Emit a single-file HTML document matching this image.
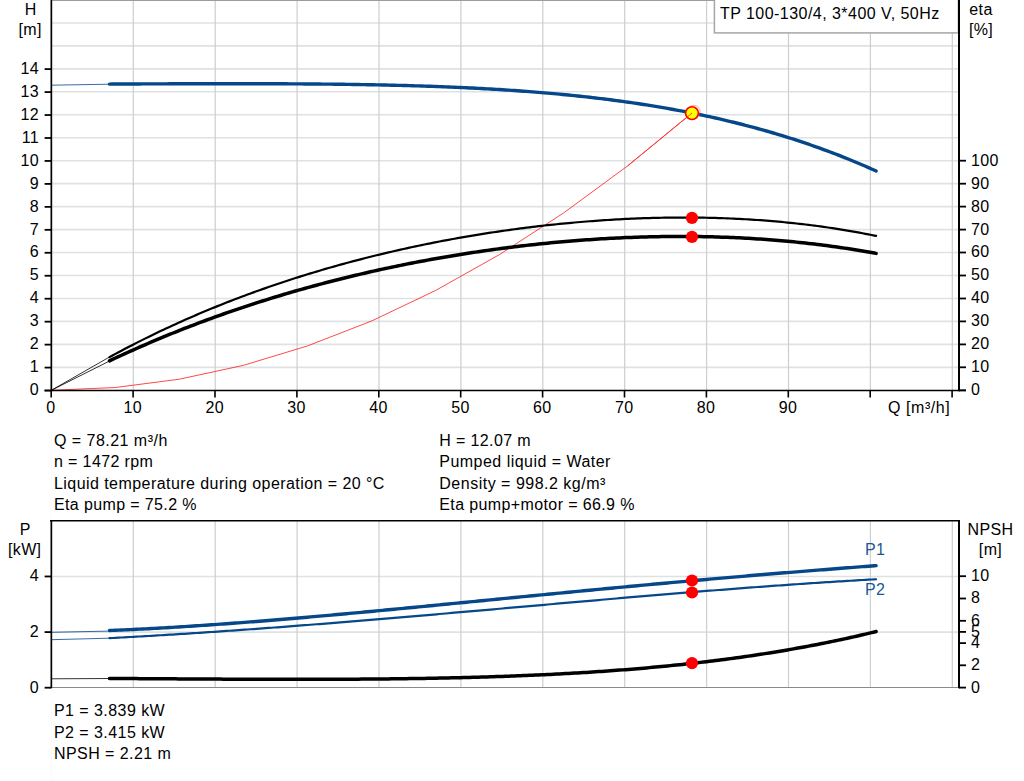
<!DOCTYPE html>
<html><head><meta charset="utf-8"><style>
html,body{margin:0;padding:0;background:#fff;}
body{width:1024px;height:781px;overflow:hidden;position:relative;}
svg{position:absolute;left:0;top:0;}
text{font-family:"Liberation Sans",sans-serif;font-size:16px;fill:#000;letter-spacing:0.37px;}
</style></head><body>
<svg width="1024" height="781" viewBox="0 0 1024 781">

<line x1="51.5" y1="430" x2="51.5" y2="519" stroke="#fafafa" stroke-width="1"/>
<line x1="51.5" y1="700" x2="51.5" y2="781" stroke="#fafafa" stroke-width="1"/>
<g stroke="#dfe1e3" stroke-width="1.6"><line x1="51" y1="367.34" x2="958" y2="367.34" /><line x1="51" y1="344.38" x2="958" y2="344.38" /><line x1="51" y1="321.42" x2="958" y2="321.42" /><line x1="51" y1="298.46" x2="958" y2="298.46" /><line x1="51" y1="275.50" x2="958" y2="275.50" /><line x1="51" y1="252.54" x2="958" y2="252.54" /><line x1="51" y1="229.58" x2="958" y2="229.58" /><line x1="51" y1="206.62" x2="958" y2="206.62" /><line x1="51" y1="183.66" x2="958" y2="183.66" /><line x1="51" y1="160.70" x2="958" y2="160.70" /><line x1="51" y1="137.74" x2="958" y2="137.74" /><line x1="51" y1="114.78" x2="958" y2="114.78" /><line x1="51" y1="91.82" x2="958" y2="91.82" /><line x1="51" y1="68.86" x2="958" y2="68.86" /><line x1="51" y1="45.90" x2="958" y2="45.90" /><line x1="51" y1="22.94" x2="958" y2="22.94" /></g>
<g stroke="#ccd0d3" stroke-width="1.25"><line x1="133.30" y1="0" x2="133.30" y2="390" /><line x1="215.20" y1="0" x2="215.20" y2="390" /><line x1="297.10" y1="0" x2="297.10" y2="390" /><line x1="379.00" y1="0" x2="379.00" y2="390" /><line x1="460.90" y1="0" x2="460.90" y2="390" /><line x1="542.80" y1="0" x2="542.80" y2="390" /><line x1="624.70" y1="0" x2="624.70" y2="390" /><line x1="706.60" y1="0" x2="706.60" y2="390" /><line x1="788.50" y1="0" x2="788.50" y2="390" /><line x1="870.40" y1="0" x2="870.40" y2="390" /><line x1="952.30" y1="0" x2="952.30" y2="390" /></g>
<line x1="51" y1="0.5" x2="959" y2="0.5" stroke="#9c9c9c" stroke-width="1"/>
<rect x="714.4" y="-1" width="244" height="33.9" fill="#fff" stroke="#a6a6a6" stroke-width="1.5"/>
<text x="720" y="18.8" style="letter-spacing:0.46px">TP 100-130/4, 3*400 V, 50Hz</text>
<polyline fill="none" stroke="#ff1a1a" stroke-width="0.8" points="51.2,390.30 115.3,387.53 179.3,379.21 243.4,365.36 307.4,345.96 371.5,321.02 435.5,290.53 499.6,254.51 563.6,212.94 627.7,165.83 691.7,113.17"/>
<line x1="51.4" y1="85.2" x2="109.5" y2="84.2" stroke="#054789" stroke-width="1" stroke-opacity="0.8"/><path d="M109.5,84.09 L112.5,84.07 L115.5,84.06 L118.5,84.04 L121.5,84.02 L124.5,84.01 L127.5,83.99 L130.5,83.98 L133.5,83.96 L136.5,83.95 L139.5,83.94 L142.5,83.92 L145.5,83.91 L148.5,83.90 L151.5,83.88 L154.5,83.87 L157.5,83.86 L160.5,83.85 L163.5,83.84 L166.5,83.83 L169.5,83.82 L172.5,83.81 L175.5,83.80 L178.5,83.79 L181.5,83.78 L184.5,83.77 L187.5,83.76 L190.5,83.75 L193.5,83.75 L196.5,83.74 L199.5,83.73 L202.5,83.73 L205.5,83.72 L208.5,83.72 L211.5,83.71 L214.5,83.71 L217.5,83.71 L220.5,83.70 L223.5,83.70 L226.5,83.70 L229.5,83.70 L232.5,83.70 L235.5,83.70 L238.5,83.70 L241.5,83.70 L244.5,83.70 L247.5,83.71 L250.5,83.71 L253.5,83.71 L256.5,83.72 L259.5,83.73 L262.5,83.73 L265.5,83.74 L268.5,83.75 L271.5,83.76 L274.5,83.77 L277.5,83.78 L280.5,83.79 L283.5,83.81 L286.5,83.82 L289.5,83.84 L292.5,83.85 L295.5,83.87 L298.5,83.89 L301.5,83.91 L304.5,83.93 L307.5,83.95 L310.5,83.97 L313.5,84.00 L316.5,84.02 L319.5,84.05 L322.5,84.08 L325.5,84.11 L328.5,84.14 L331.5,84.17 L334.5,84.21 L337.5,84.24 L340.5,84.28 L343.5,84.32 L346.5,84.36 L349.5,84.40 L352.5,84.45 L355.5,84.49 L358.5,84.54 L361.5,84.59 L364.5,84.64 L367.5,84.69 L370.5,84.75 L373.5,84.80 L376.5,84.86 L379.5,84.92 L382.5,84.99 L385.5,85.05 L388.5,85.12 L391.5,85.19 L394.5,85.26 L397.5,85.33 L400.5,85.41 L403.5,85.49 L406.5,85.57 L409.5,85.65 L412.5,85.74 L415.5,85.83 L418.5,85.92 L421.5,86.01 L424.5,86.11 L427.5,86.21 L430.5,86.31 L433.5,86.42 L436.5,86.53 L439.5,86.64 L442.5,86.75 L445.5,86.87 L448.5,86.99 L451.5,87.11 L454.5,87.24 L457.5,87.37 L460.5,87.50 L463.5,87.64 L466.5,87.78 L469.5,87.93 L472.5,88.07 L475.5,88.22 L478.5,88.38 L481.5,88.54 L484.5,88.70 L487.5,88.87 L490.5,89.04 L493.5,89.21 L496.5,89.39 L499.5,89.57 L502.5,89.76 L505.5,89.95 L508.5,90.14 L511.5,90.34 L514.5,90.55 L517.5,90.75 L520.5,90.97 L523.5,91.18 L526.5,91.41 L529.5,91.63 L532.5,91.86 L535.5,92.10 L538.5,92.34 L541.5,92.59 L544.5,92.84 L547.5,93.10 L550.5,93.36 L553.5,93.63 L556.5,93.90 L559.5,94.18 L562.5,94.46 L565.5,94.75 L568.5,95.04 L571.5,95.34 L574.5,95.65 L577.5,95.96 L580.5,96.28 L583.5,96.60 L586.5,96.93 L589.5,97.27 L592.5,97.61 L595.5,97.96 L598.5,98.32 L601.5,98.68 L604.5,99.05 L607.5,99.42 L610.5,99.80 L613.5,100.19 L616.5,100.58 L619.5,100.99 L622.5,101.40 L625.5,101.81 L628.5,102.24 L631.5,102.67 L634.5,103.10 L637.5,103.55 L640.5,104.00 L643.5,104.46 L646.5,104.93 L649.5,105.41 L652.5,105.89 L655.5,106.38 L658.5,106.88 L661.5,107.39 L664.5,107.91 L667.5,108.43 L670.5,108.97 L673.5,109.51 L676.5,110.06 L679.5,110.62 L682.5,111.18 L685.5,111.76 L688.5,112.34 L691.5,112.94 L694.5,113.54 L697.5,114.15 L700.5,114.78 L703.5,115.41 L706.5,116.05 L709.5,116.70 L712.5,117.36 L715.5,118.03 L718.5,118.71 L721.5,119.40 L724.5,120.10 L727.5,120.81 L730.5,121.53 L733.5,122.26 L736.5,123.00 L739.5,123.75 L742.5,124.52 L745.5,125.29 L748.5,126.07 L751.5,126.87 L754.5,127.67 L757.5,128.49 L760.5,129.32 L763.5,130.16 L766.5,131.01 L769.5,131.88 L772.5,132.75 L775.5,133.64 L778.5,134.54 L781.5,135.45 L784.5,136.37 L787.5,137.31 L790.5,138.25 L793.5,139.21 L796.5,140.19 L799.5,141.17 L802.5,142.17 L805.5,143.18 L808.5,144.21 L811.5,145.24 L814.5,146.29 L817.5,147.36 L820.5,148.44 L823.5,149.53 L826.5,150.63 L829.5,151.75 L832.5,152.88 L835.5,154.03 L838.5,155.19 L841.5,156.36 L844.5,157.55 L847.5,158.76 L850.5,159.98 L853.5,161.21 L856.5,162.46 L859.5,163.72 L862.5,165.00 L865.5,166.29 L868.5,167.60 L871.5,168.93 L874.5,170.27 L876.1,170.99" fill="none" stroke="#054789" stroke-width="3.4" stroke-linecap="round" stroke-linejoin="round"/>
<line x1="51.3" y1="390.3" x2="109.5" y2="357.0" stroke="#000" stroke-width="1" stroke-opacity="0.8"/><path d="M109.5,357.13 L112.5,355.49 L115.5,353.87 L118.5,352.26 L121.5,350.67 L124.5,349.09 L127.5,347.52 L130.5,345.97 L133.5,344.42 L136.5,342.89 L139.5,341.38 L142.5,339.87 L145.5,338.38 L148.5,336.90 L151.5,335.44 L154.5,333.98 L157.5,332.54 L160.5,331.11 L163.5,329.69 L166.5,328.29 L169.5,326.89 L172.5,325.51 L175.5,324.14 L178.5,322.78 L181.5,321.44 L184.5,320.10 L187.5,318.78 L190.5,317.46 L193.5,316.16 L196.5,314.87 L199.5,313.59 L202.5,312.32 L205.5,311.07 L208.5,309.82 L211.5,308.58 L214.5,307.36 L217.5,306.14 L220.5,304.94 L223.5,303.75 L226.5,302.56 L229.5,301.39 L232.5,300.23 L235.5,299.08 L238.5,297.93 L241.5,296.80 L244.5,295.68 L247.5,294.57 L250.5,293.46 L253.5,292.37 L256.5,291.29 L259.5,290.22 L262.5,289.15 L265.5,288.10 L268.5,287.05 L271.5,286.02 L274.5,284.99 L277.5,283.98 L280.5,282.97 L283.5,281.97 L286.5,280.98 L289.5,280.00 L292.5,279.03 L295.5,278.07 L298.5,277.12 L301.5,276.17 L304.5,275.24 L307.5,274.31 L310.5,273.39 L313.5,272.48 L316.5,271.58 L319.5,270.69 L322.5,269.81 L325.5,268.93 L328.5,268.06 L331.5,267.21 L334.5,266.36 L337.5,265.51 L340.5,264.68 L343.5,263.85 L346.5,263.04 L349.5,262.23 L352.5,261.43 L355.5,260.63 L358.5,259.85 L361.5,259.07 L364.5,258.30 L367.5,257.54 L370.5,256.79 L373.5,256.04 L376.5,255.30 L379.5,254.57 L382.5,253.85 L385.5,253.13 L388.5,252.42 L391.5,251.72 L394.5,251.03 L397.5,250.35 L400.5,249.67 L403.5,249.00 L406.5,248.34 L409.5,247.68 L412.5,247.03 L415.5,246.39 L418.5,245.76 L421.5,245.13 L424.5,244.51 L427.5,243.90 L430.5,243.30 L433.5,242.70 L436.5,242.11 L439.5,241.53 L442.5,240.95 L445.5,240.38 L448.5,239.82 L451.5,239.27 L454.5,238.72 L457.5,238.18 L460.5,237.65 L463.5,237.12 L466.5,236.60 L469.5,236.09 L472.5,235.59 L475.5,235.09 L478.5,234.60 L481.5,234.11 L484.5,233.63 L487.5,233.16 L490.5,232.70 L493.5,232.24 L496.5,231.79 L499.5,231.35 L502.5,230.91 L505.5,230.48 L508.5,230.06 L511.5,229.65 L514.5,229.24 L517.5,228.84 L520.5,228.44 L523.5,228.05 L526.5,227.67 L529.5,227.30 L532.5,226.93 L535.5,226.57 L538.5,226.21 L541.5,225.87 L544.5,225.53 L547.5,225.19 L550.5,224.87 L553.5,224.55 L556.5,224.24 L559.5,223.93 L562.5,223.63 L565.5,223.34 L568.5,223.05 L571.5,222.78 L574.5,222.50 L577.5,222.24 L580.5,221.98 L583.5,221.73 L586.5,221.49 L589.5,221.25 L592.5,221.03 L595.5,220.80 L598.5,220.59 L601.5,220.38 L604.5,220.18 L607.5,219.99 L610.5,219.80 L613.5,219.62 L616.5,219.45 L619.5,219.28 L622.5,219.12 L625.5,218.97 L628.5,218.83 L631.5,218.69 L634.5,218.57 L637.5,218.45 L640.5,218.33 L643.5,218.22 L646.5,218.13 L649.5,218.03 L652.5,217.95 L655.5,217.87 L658.5,217.80 L661.5,217.74 L664.5,217.69 L667.5,217.64 L670.5,217.60 L673.5,217.57 L676.5,217.55 L679.5,217.54 L682.5,217.53 L685.5,217.53 L688.5,217.54 L691.5,217.55 L694.5,217.58 L697.5,217.61 L700.5,217.65 L703.5,217.70 L706.5,217.76 L709.5,217.82 L712.5,217.89 L715.5,217.97 L718.5,218.06 L721.5,218.16 L724.5,218.27 L727.5,218.38 L730.5,218.51 L733.5,218.64 L736.5,218.78 L739.5,218.93 L742.5,219.09 L745.5,219.25 L748.5,219.43 L751.5,219.61 L754.5,219.81 L757.5,220.01 L760.5,220.22 L763.5,220.44 L766.5,220.67 L769.5,220.91 L772.5,221.16 L775.5,221.42 L778.5,221.68 L781.5,221.96 L784.5,222.24 L787.5,222.54 L790.5,222.84 L793.5,223.16 L796.5,223.48 L799.5,223.82 L802.5,224.16 L805.5,224.52 L808.5,224.88 L811.5,225.25 L814.5,225.64 L817.5,226.03 L820.5,226.44 L823.5,226.85 L826.5,227.28 L829.5,227.72 L832.5,228.16 L835.5,228.62 L838.5,229.09 L841.5,229.57 L844.5,230.06 L847.5,230.56 L850.5,231.07 L853.5,231.59 L856.5,232.13 L859.5,232.67 L862.5,233.23 L865.5,233.80 L868.5,234.38 L871.5,234.97 L874.5,235.57 L876.1,235.90" fill="none" stroke="#000" stroke-width="2.2" stroke-linecap="round" stroke-linejoin="round"/>
<line x1="51.3" y1="390.3" x2="109.5" y2="361.0" stroke="#000" stroke-width="1" stroke-opacity="0.8"/><path d="M109.5,360.86 L112.5,359.44 L115.5,358.03 L118.5,356.64 L121.5,355.25 L124.5,353.88 L127.5,352.51 L130.5,351.15 L133.5,349.81 L136.5,348.48 L139.5,347.15 L142.5,345.84 L145.5,344.53 L148.5,343.24 L151.5,341.96 L154.5,340.68 L157.5,339.42 L160.5,338.17 L163.5,336.92 L166.5,335.69 L169.5,334.46 L172.5,333.25 L175.5,332.04 L178.5,330.85 L181.5,329.66 L184.5,328.48 L187.5,327.31 L190.5,326.16 L193.5,325.01 L196.5,323.87 L199.5,322.73 L202.5,321.61 L205.5,320.50 L208.5,319.39 L211.5,318.30 L214.5,317.21 L217.5,316.13 L220.5,315.07 L223.5,314.00 L226.5,312.95 L229.5,311.91 L232.5,310.88 L235.5,309.85 L238.5,308.83 L241.5,307.82 L244.5,306.82 L247.5,305.83 L250.5,304.85 L253.5,303.87 L256.5,302.90 L259.5,301.94 L262.5,300.99 L265.5,300.05 L268.5,299.11 L271.5,298.18 L274.5,297.26 L277.5,296.35 L280.5,295.45 L283.5,294.55 L286.5,293.67 L289.5,292.79 L292.5,291.91 L295.5,291.05 L298.5,290.19 L301.5,289.34 L304.5,288.50 L307.5,287.66 L310.5,286.84 L313.5,286.02 L316.5,285.20 L319.5,284.40 L322.5,283.60 L325.5,282.81 L328.5,282.03 L331.5,281.25 L334.5,280.49 L337.5,279.72 L340.5,278.97 L343.5,278.22 L346.5,277.48 L349.5,276.75 L352.5,276.03 L355.5,275.31 L358.5,274.60 L361.5,273.89 L364.5,273.19 L367.5,272.50 L370.5,271.82 L373.5,271.14 L376.5,270.47 L379.5,269.81 L382.5,269.16 L385.5,268.51 L388.5,267.86 L391.5,267.23 L394.5,266.60 L397.5,265.98 L400.5,265.36 L403.5,264.75 L406.5,264.15 L409.5,263.55 L412.5,262.97 L415.5,262.38 L418.5,261.81 L421.5,261.24 L424.5,260.68 L427.5,260.12 L430.5,259.57 L433.5,259.03 L436.5,258.49 L439.5,257.96 L442.5,257.44 L445.5,256.92 L448.5,256.41 L451.5,255.91 L454.5,255.41 L457.5,254.92 L460.5,254.43 L463.5,253.95 L466.5,253.48 L469.5,253.02 L472.5,252.56 L475.5,252.11 L478.5,251.66 L481.5,251.22 L484.5,250.79 L487.5,250.36 L490.5,249.94 L493.5,249.52 L496.5,249.12 L499.5,248.71 L502.5,248.32 L505.5,247.93 L508.5,247.55 L511.5,247.17 L514.5,246.80 L517.5,246.44 L520.5,246.08 L523.5,245.73 L526.5,245.38 L529.5,245.05 L532.5,244.71 L535.5,244.39 L538.5,244.07 L541.5,243.76 L544.5,243.45 L547.5,243.15 L550.5,242.86 L553.5,242.57 L556.5,242.29 L559.5,242.01 L562.5,241.75 L565.5,241.48 L568.5,241.23 L571.5,240.98 L574.5,240.74 L577.5,240.50 L580.5,240.27 L583.5,240.05 L586.5,239.84 L589.5,239.63 L592.5,239.42 L595.5,239.23 L598.5,239.04 L601.5,238.85 L604.5,238.68 L607.5,238.50 L610.5,238.34 L613.5,238.18 L616.5,238.03 L619.5,237.89 L622.5,237.75 L625.5,237.62 L628.5,237.50 L631.5,237.38 L634.5,237.27 L637.5,237.17 L640.5,237.07 L643.5,236.98 L646.5,236.90 L649.5,236.82 L652.5,236.75 L655.5,236.69 L658.5,236.64 L661.5,236.59 L664.5,236.55 L667.5,236.51 L670.5,236.49 L673.5,236.47 L676.5,236.45 L679.5,236.45 L682.5,236.45 L685.5,236.46 L688.5,236.47 L691.5,236.50 L694.5,236.53 L697.5,236.56 L700.5,236.61 L703.5,236.66 L706.5,236.72 L709.5,236.79 L712.5,236.86 L715.5,236.94 L718.5,237.03 L721.5,237.13 L724.5,237.23 L727.5,237.35 L730.5,237.47 L733.5,237.59 L736.5,237.73 L739.5,237.87 L742.5,238.02 L745.5,238.18 L748.5,238.35 L751.5,238.52 L754.5,238.71 L757.5,238.90 L760.5,239.10 L763.5,239.30 L766.5,239.52 L769.5,239.74 L772.5,239.97 L775.5,240.21 L778.5,240.46 L781.5,240.72 L784.5,240.98 L787.5,241.26 L790.5,241.54 L793.5,241.83 L796.5,242.13 L799.5,242.43 L802.5,242.75 L805.5,243.08 L808.5,243.41 L811.5,243.75 L814.5,244.10 L817.5,244.47 L820.5,244.83 L823.5,245.21 L826.5,245.60 L829.5,246.00 L832.5,246.40 L835.5,246.82 L838.5,247.24 L841.5,247.68 L844.5,248.12 L847.5,248.57 L850.5,249.04 L853.5,249.51 L856.5,249.99 L859.5,250.48 L862.5,250.98 L865.5,251.49 L868.5,252.02 L871.5,252.55 L874.5,253.09 L876.1,253.38" fill="none" stroke="#000" stroke-width="3.5" stroke-linecap="round" stroke-linejoin="round"/>
<circle cx="693.8" cy="111.7" r="6.4" fill="none" stroke="#ff6060" stroke-width="0.8" opacity="0.7"/>
<circle cx="692" cy="113.1" r="6.4" fill="#ffff00" stroke="#ff0000" stroke-width="1.6"/>
<line x1="627.7" y1="165.83" x2="692" y2="113.1" stroke="#ff3030" stroke-width="0.9"/>
<circle cx="692" cy="217.9" r="6.1" fill="#ff0000"/>
<circle cx="692" cy="236.9" r="6.1" fill="#ff0000"/>
<g stroke="#000" stroke-width="2">
<line x1="51.35" y1="0" x2="51.35" y2="391.3" stroke-width="1.7"/>
<line x1="959" y1="0" x2="959" y2="391.3"/>
<line x1="44.5" y1="390.5" x2="966" y2="390.5" stroke-width="1.5"/>
<line x1="44.6" y1="390.55" x2="51" y2="390.55" stroke-width="1.8"/>
<line x1="44.6" y1="367.59" x2="51" y2="367.59" stroke-width="1.8"/>
<line x1="44.6" y1="344.63" x2="51" y2="344.63" stroke-width="1.8"/>
<line x1="44.6" y1="321.67" x2="51" y2="321.67" stroke-width="1.8"/>
<line x1="44.6" y1="298.71" x2="51" y2="298.71" stroke-width="1.8"/>
<line x1="44.6" y1="275.75" x2="51" y2="275.75" stroke-width="1.8"/>
<line x1="44.6" y1="252.79" x2="51" y2="252.79" stroke-width="1.8"/>
<line x1="44.6" y1="229.83" x2="51" y2="229.83" stroke-width="1.8"/>
<line x1="44.6" y1="206.87" x2="51" y2="206.87" stroke-width="1.8"/>
<line x1="44.6" y1="183.91" x2="51" y2="183.91" stroke-width="1.8"/>
<line x1="44.6" y1="160.95" x2="51" y2="160.95" stroke-width="1.8"/>
<line x1="44.6" y1="137.99" x2="51" y2="137.99" stroke-width="1.8"/>
<line x1="44.6" y1="115.03" x2="51" y2="115.03" stroke-width="1.8"/>
<line x1="44.6" y1="92.07" x2="51" y2="92.07" stroke-width="1.8"/>
<line x1="44.6" y1="69.11" x2="51" y2="69.11" stroke-width="1.8"/>
<line x1="959" y1="390.3" x2="966" y2="390.3" stroke-width="1.8"/>
<line x1="959" y1="367.3" x2="966" y2="367.3" stroke-width="1.8"/>
<line x1="959" y1="344.4" x2="966" y2="344.4" stroke-width="1.8"/>
<line x1="959" y1="321.4" x2="966" y2="321.4" stroke-width="1.8"/>
<line x1="959" y1="298.5" x2="966" y2="298.5" stroke-width="1.8"/>
<line x1="959" y1="275.5" x2="966" y2="275.5" stroke-width="1.8"/>
<line x1="959" y1="252.5" x2="966" y2="252.5" stroke-width="1.8"/>
<line x1="959" y1="229.6" x2="966" y2="229.6" stroke-width="1.8"/>
<line x1="959" y1="206.6" x2="966" y2="206.6" stroke-width="1.8"/>
<line x1="959" y1="183.7" x2="966" y2="183.7" stroke-width="1.8"/>
<line x1="959" y1="160.7" x2="966" y2="160.7" stroke-width="1.8"/>
<line x1="51.2" y1="390" x2="51.2" y2="397.5" stroke-width="1.6"/>
<line x1="133.1" y1="390" x2="133.1" y2="397.5" stroke-width="1.6"/>
<line x1="215.0" y1="390" x2="215.0" y2="397.5" stroke-width="1.6"/>
<line x1="296.9" y1="390" x2="296.9" y2="397.5" stroke-width="1.6"/>
<line x1="378.8" y1="390" x2="378.8" y2="397.5" stroke-width="1.6"/>
<line x1="460.7" y1="390" x2="460.7" y2="397.5" stroke-width="1.6"/>
<line x1="542.6" y1="390" x2="542.6" y2="397.5" stroke-width="1.6"/>
<line x1="624.5" y1="390" x2="624.5" y2="397.5" stroke-width="1.6"/>
<line x1="706.4" y1="390" x2="706.4" y2="397.5" stroke-width="1.6"/>
<line x1="788.3" y1="390" x2="788.3" y2="397.5" stroke-width="1.6"/>
<line x1="870.2" y1="390" x2="870.2" y2="397.5" stroke-width="1.6"/>
<line x1="952.1" y1="390" x2="952.1" y2="397.5" stroke-width="1.6"/>
</g>
<text x="39" y="395.2" text-anchor="end">0</text><text x="39" y="372.2" text-anchor="end">1</text><text x="39" y="349.3" text-anchor="end">2</text><text x="39" y="326.3" text-anchor="end">3</text><text x="39" y="303.4" text-anchor="end">4</text><text x="39" y="280.4" text-anchor="end">5</text><text x="39" y="257.4" text-anchor="end">6</text><text x="39" y="234.5" text-anchor="end">7</text><text x="39" y="211.5" text-anchor="end">8</text><text x="39" y="188.6" text-anchor="end">9</text><text x="39" y="165.6" text-anchor="end">10</text><text x="39" y="142.6" text-anchor="end">11</text><text x="39" y="119.7" text-anchor="end">12</text><text x="39" y="96.7" text-anchor="end">13</text><text x="39" y="73.8" text-anchor="end">14</text><text x="971" y="395.2">0</text><text x="971" y="372.2">10</text><text x="971" y="349.3">20</text><text x="971" y="326.3">30</text><text x="971" y="303.4">40</text><text x="971" y="280.4">50</text><text x="971" y="257.4">60</text><text x="971" y="234.5">70</text><text x="971" y="211.5">80</text><text x="971" y="188.6">90</text><text x="971" y="165.6">100</text><text x="50.9" y="412.5" text-anchor="middle">0</text><text x="132.8" y="412.5" text-anchor="middle">10</text><text x="214.7" y="412.5" text-anchor="middle">20</text><text x="296.6" y="412.5" text-anchor="middle">30</text><text x="378.5" y="412.5" text-anchor="middle">40</text><text x="460.4" y="412.5" text-anchor="middle">50</text><text x="542.3" y="412.5" text-anchor="middle">60</text><text x="624.2" y="412.5" text-anchor="middle">70</text><text x="706.1" y="412.5" text-anchor="middle">80</text><text x="788.0" y="412.5" text-anchor="middle">90</text><text x="888" y="412.6" style="letter-spacing:0.57px">Q [m³/h]</text><text x="30.7" y="14.8" text-anchor="middle">H</text><text x="30.2" y="34.5" text-anchor="middle">[m]</text><text x="981" y="14.6" text-anchor="middle">eta</text><text x="981" y="34.5" text-anchor="middle">[%]</text>
<text x="54" y="446.4" style="letter-spacing:0.47px">Q = 78.21 m³/h</text>
<text x="439.3" y="446.4" style="letter-spacing:0.37px">H = 12.07 m</text>
<text x="54" y="466.6" style="letter-spacing:0.37px">n = 1472 rpm</text>
<text x="439.3" y="466.6" style="letter-spacing:0.47px">Pumped liquid = Water</text>
<text x="54" y="488.6" style="letter-spacing:0.44px">Liquid temperature during operation = 20 °C</text>
<text x="439.3" y="488.6" style="letter-spacing:0.5px">Density = 998.2 kg/m³</text>
<text x="54" y="509.8" style="letter-spacing:0.37px">Eta pump = 75.2 %</text>
<text x="439.3" y="509.8" style="letter-spacing:0.38px">Eta pump+motor = 66.9 %</text>
<g stroke="#dfe1e3" stroke-width="1.6"><line x1="51" y1="632.08" x2="958" y2="632.08" /><line x1="51" y1="576.46" x2="958" y2="576.46" /></g>
<g stroke="#ccd0d3" stroke-width="1.25"><line x1="133.30" y1="521" x2="133.30" y2="687" /><line x1="215.20" y1="521" x2="215.20" y2="687" /><line x1="297.10" y1="521" x2="297.10" y2="687" /><line x1="379.00" y1="521" x2="379.00" y2="687" /><line x1="460.90" y1="521" x2="460.90" y2="687" /><line x1="542.80" y1="521" x2="542.80" y2="687" /><line x1="624.70" y1="521" x2="624.70" y2="687" /><line x1="706.60" y1="521" x2="706.60" y2="687" /><line x1="788.50" y1="521" x2="788.50" y2="687" /><line x1="870.40" y1="521" x2="870.40" y2="687" /><line x1="952.30" y1="521" x2="952.30" y2="687" /></g>
<line x1="51" y1="687.5" x2="959" y2="687.5" stroke="#8a8a8a" stroke-width="1.2"/>
<line x1="51.4" y1="632.3" x2="109.5" y2="631.1" stroke="#054789" stroke-width="1" stroke-opacity="0.8"/><path d="M109.5,630.52 L112.5,630.40 L115.5,630.28 L118.5,630.15 L121.5,630.02 L124.5,629.88 L127.5,629.74 L130.5,629.60 L133.5,629.46 L136.5,629.31 L139.5,629.16 L142.5,629.01 L145.5,628.86 L148.5,628.70 L151.5,628.54 L154.5,628.37 L157.5,628.21 L160.5,628.04 L163.5,627.87 L166.5,627.69 L169.5,627.52 L172.5,627.34 L175.5,627.16 L178.5,626.97 L181.5,626.79 L184.5,626.60 L187.5,626.41 L190.5,626.22 L193.5,626.02 L196.5,625.82 L199.5,625.62 L202.5,625.42 L205.5,625.22 L208.5,625.01 L211.5,624.80 L214.5,624.59 L217.5,624.38 L220.5,624.16 L223.5,623.95 L226.5,623.73 L229.5,623.51 L232.5,623.29 L235.5,623.06 L238.5,622.84 L241.5,622.61 L244.5,622.38 L247.5,622.15 L250.5,621.91 L253.5,621.68 L256.5,621.44 L259.5,621.20 L262.5,620.96 L265.5,620.72 L268.5,620.48 L271.5,620.24 L274.5,619.99 L277.5,619.74 L280.5,619.49 L283.5,619.24 L286.5,618.99 L289.5,618.74 L292.5,618.48 L295.5,618.23 L298.5,617.97 L301.5,617.71 L304.5,617.45 L307.5,617.19 L310.5,616.93 L313.5,616.67 L316.5,616.40 L319.5,616.14 L322.5,615.87 L325.5,615.60 L328.5,615.33 L331.5,615.07 L334.5,614.79 L337.5,614.52 L340.5,614.25 L343.5,613.98 L346.5,613.70 L349.5,613.43 L352.5,613.15 L355.5,612.87 L358.5,612.60 L361.5,612.32 L364.5,612.04 L367.5,611.76 L370.5,611.48 L373.5,611.19 L376.5,610.91 L379.5,610.63 L382.5,610.34 L385.5,610.06 L388.5,609.78 L391.5,609.49 L394.5,609.20 L397.5,608.92 L400.5,608.63 L403.5,608.34 L406.5,608.05 L409.5,607.77 L412.5,607.48 L415.5,607.19 L418.5,606.90 L421.5,606.61 L424.5,606.32 L427.5,606.02 L430.5,605.73 L433.5,605.44 L436.5,605.15 L439.5,604.86 L442.5,604.56 L445.5,604.27 L448.5,603.98 L451.5,603.68 L454.5,603.39 L457.5,603.10 L460.5,602.80 L463.5,602.51 L466.5,602.22 L469.5,601.92 L472.5,601.63 L475.5,601.33 L478.5,601.04 L481.5,600.74 L484.5,600.45 L487.5,600.16 L490.5,599.86 L493.5,599.57 L496.5,599.27 L499.5,598.98 L502.5,598.68 L505.5,598.39 L508.5,598.09 L511.5,597.80 L514.5,597.51 L517.5,597.21 L520.5,596.92 L523.5,596.62 L526.5,596.33 L529.5,596.04 L532.5,595.74 L535.5,595.45 L538.5,595.16 L541.5,594.87 L544.5,594.57 L547.5,594.28 L550.5,593.99 L553.5,593.70 L556.5,593.41 L559.5,593.12 L562.5,592.83 L565.5,592.54 L568.5,592.25 L571.5,591.96 L574.5,591.67 L577.5,591.38 L580.5,591.09 L583.5,590.81 L586.5,590.52 L589.5,590.23 L592.5,589.94 L595.5,589.66 L598.5,589.37 L601.5,589.09 L604.5,588.80 L607.5,588.52 L610.5,588.23 L613.5,587.95 L616.5,587.67 L619.5,587.38 L622.5,587.10 L625.5,586.82 L628.5,586.54 L631.5,586.26 L634.5,585.98 L637.5,585.70 L640.5,585.42 L643.5,585.14 L646.5,584.87 L649.5,584.59 L652.5,584.31 L655.5,584.04 L658.5,583.76 L661.5,583.49 L664.5,583.21 L667.5,582.94 L670.5,582.67 L673.5,582.40 L676.5,582.13 L679.5,581.85 L682.5,581.58 L685.5,581.32 L688.5,581.05 L691.5,580.78 L694.5,580.51 L697.5,580.24 L700.5,579.98 L703.5,579.71 L706.5,579.45 L709.5,579.18 L712.5,578.92 L715.5,578.66 L718.5,578.40 L721.5,578.13 L724.5,577.87 L727.5,577.61 L730.5,577.35 L733.5,577.10 L736.5,576.84 L739.5,576.58 L742.5,576.33 L745.5,576.07 L748.5,575.81 L751.5,575.56 L754.5,575.31 L757.5,575.05 L760.5,574.80 L763.5,574.55 L766.5,574.30 L769.5,574.05 L772.5,573.80 L775.5,573.55 L778.5,573.31 L781.5,573.06 L784.5,572.81 L787.5,572.57 L790.5,572.32 L793.5,572.08 L796.5,571.83 L799.5,571.59 L802.5,571.35 L805.5,571.11 L808.5,570.87 L811.5,570.63 L814.5,570.39 L817.5,570.15 L820.5,569.91 L823.5,569.68 L826.5,569.44 L829.5,569.21 L832.5,568.97 L835.5,568.74 L838.5,568.50 L841.5,568.27 L844.5,568.04 L847.5,567.81 L850.5,567.58 L853.5,567.35 L856.5,567.12 L859.5,566.89 L862.5,566.66 L865.5,566.43 L868.5,566.21 L871.5,565.98 L874.5,565.76 L876.1,565.64" fill="none" stroke="#054789" stroke-width="3.4" stroke-linecap="round" stroke-linejoin="round"/>
<line x1="51.4" y1="639.7" x2="109.5" y2="638.2" stroke="#054789" stroke-width="1" stroke-opacity="0.8"/><path d="M109.5,638.17 L112.5,638.01 L115.5,637.85 L118.5,637.69 L121.5,637.52 L124.5,637.36 L127.5,637.19 L130.5,637.02 L133.5,636.85 L136.5,636.68 L139.5,636.51 L142.5,636.34 L145.5,636.16 L148.5,635.99 L151.5,635.81 L154.5,635.63 L157.5,635.45 L160.5,635.27 L163.5,635.09 L166.5,634.91 L169.5,634.72 L172.5,634.53 L175.5,634.35 L178.5,634.16 L181.5,633.97 L184.5,633.78 L187.5,633.58 L190.5,633.39 L193.5,633.19 L196.5,633.00 L199.5,632.80 L202.5,632.60 L205.5,632.40 L208.5,632.20 L211.5,632.00 L214.5,631.80 L217.5,631.59 L220.5,631.39 L223.5,631.18 L226.5,630.97 L229.5,630.76 L232.5,630.55 L235.5,630.34 L238.5,630.13 L241.5,629.92 L244.5,629.70 L247.5,629.49 L250.5,629.27 L253.5,629.06 L256.5,628.84 L259.5,628.62 L262.5,628.40 L265.5,628.18 L268.5,627.95 L271.5,627.73 L274.5,627.51 L277.5,627.28 L280.5,627.06 L283.5,626.83 L286.5,626.60 L289.5,626.37 L292.5,626.14 L295.5,625.91 L298.5,625.68 L301.5,625.45 L304.5,625.22 L307.5,624.98 L310.5,624.75 L313.5,624.51 L316.5,624.27 L319.5,624.04 L322.5,623.80 L325.5,623.56 L328.5,623.32 L331.5,623.08 L334.5,622.84 L337.5,622.60 L340.5,622.36 L343.5,622.11 L346.5,621.87 L349.5,621.62 L352.5,621.38 L355.5,621.13 L358.5,620.89 L361.5,620.64 L364.5,620.39 L367.5,620.14 L370.5,619.89 L373.5,619.64 L376.5,619.39 L379.5,619.14 L382.5,618.89 L385.5,618.64 L388.5,618.39 L391.5,618.13 L394.5,617.88 L397.5,617.62 L400.5,617.37 L403.5,617.11 L406.5,616.86 L409.5,616.60 L412.5,616.35 L415.5,616.09 L418.5,615.83 L421.5,615.57 L424.5,615.31 L427.5,615.06 L430.5,614.80 L433.5,614.54 L436.5,614.28 L439.5,614.02 L442.5,613.76 L445.5,613.49 L448.5,613.23 L451.5,612.97 L454.5,612.71 L457.5,612.45 L460.5,612.19 L463.5,611.92 L466.5,611.66 L469.5,611.40 L472.5,611.13 L475.5,610.87 L478.5,610.61 L481.5,610.34 L484.5,610.08 L487.5,609.81 L490.5,609.55 L493.5,609.28 L496.5,609.02 L499.5,608.75 L502.5,608.49 L505.5,608.22 L508.5,607.96 L511.5,607.69 L514.5,607.43 L517.5,607.16 L520.5,606.90 L523.5,606.63 L526.5,606.37 L529.5,606.10 L532.5,605.84 L535.5,605.57 L538.5,605.31 L541.5,605.04 L544.5,604.78 L547.5,604.51 L550.5,604.25 L553.5,603.98 L556.5,603.72 L559.5,603.45 L562.5,603.19 L565.5,602.93 L568.5,602.66 L571.5,602.40 L574.5,602.13 L577.5,601.87 L580.5,601.61 L583.5,601.35 L586.5,601.08 L589.5,600.82 L592.5,600.56 L595.5,600.30 L598.5,600.04 L601.5,599.77 L604.5,599.51 L607.5,599.25 L610.5,598.99 L613.5,598.73 L616.5,598.48 L619.5,598.22 L622.5,597.96 L625.5,597.70 L628.5,597.44 L631.5,597.19 L634.5,596.93 L637.5,596.68 L640.5,596.42 L643.5,596.17 L646.5,595.91 L649.5,595.66 L652.5,595.40 L655.5,595.15 L658.5,594.90 L661.5,594.65 L664.5,594.40 L667.5,594.15 L670.5,593.90 L673.5,593.65 L676.5,593.40 L679.5,593.16 L682.5,592.91 L685.5,592.66 L688.5,592.42 L691.5,592.17 L694.5,591.93 L697.5,591.69 L700.5,591.45 L703.5,591.20 L706.5,590.96 L709.5,590.72 L712.5,590.49 L715.5,590.25 L718.5,590.01 L721.5,589.78 L724.5,589.54 L727.5,589.31 L730.5,589.07 L733.5,588.84 L736.5,588.61 L739.5,588.38 L742.5,588.15 L745.5,587.93 L748.5,587.70 L751.5,587.47 L754.5,587.25 L757.5,587.02 L760.5,586.80 L763.5,586.58 L766.5,586.36 L769.5,586.14 L772.5,585.92 L775.5,585.71 L778.5,585.49 L781.5,585.28 L784.5,585.06 L787.5,584.85 L790.5,584.64 L793.5,584.43 L796.5,584.23 L799.5,584.02 L802.5,583.81 L805.5,583.61 L808.5,583.41 L811.5,583.21 L814.5,583.01 L817.5,582.81 L820.5,582.61 L823.5,582.42 L826.5,582.22 L829.5,582.03 L832.5,581.84 L835.5,581.65 L838.5,581.46 L841.5,581.28 L844.5,581.09 L847.5,580.91 L850.5,580.73 L853.5,580.55 L856.5,580.37 L859.5,580.19 L862.5,580.02 L865.5,579.84 L868.5,579.67 L871.5,579.50 L874.5,579.33 L876.1,579.24" fill="none" stroke="#054789" stroke-width="2.2" stroke-linecap="round" stroke-linejoin="round"/>
<line x1="51.2" y1="678.8" x2="109.5" y2="678.5" stroke="#000" stroke-width="1" stroke-opacity="0.8"/><path d="M109.5,678.42 L112.5,678.44 L115.5,678.47 L118.5,678.49 L121.5,678.51 L124.5,678.53 L127.5,678.55 L130.5,678.57 L133.5,678.59 L136.5,678.61 L139.5,678.64 L142.5,678.66 L145.5,678.68 L148.5,678.70 L151.5,678.72 L154.5,678.74 L157.5,678.76 L160.5,678.78 L163.5,678.80 L166.5,678.82 L169.5,678.83 L172.5,678.85 L175.5,678.87 L178.5,678.89 L181.5,678.91 L184.5,678.93 L187.5,678.94 L190.5,678.96 L193.5,678.98 L196.5,679.00 L199.5,679.01 L202.5,679.03 L205.5,679.04 L208.5,679.06 L211.5,679.08 L214.5,679.09 L217.5,679.11 L220.5,679.12 L223.5,679.13 L226.5,679.15 L229.5,679.16 L232.5,679.17 L235.5,679.19 L238.5,679.20 L241.5,679.21 L244.5,679.22 L247.5,679.23 L250.5,679.24 L253.5,679.25 L256.5,679.26 L259.5,679.27 L262.5,679.27 L265.5,679.28 L268.5,679.29 L271.5,679.29 L274.5,679.30 L277.5,679.30 L280.5,679.31 L283.5,679.31 L286.5,679.31 L289.5,679.32 L292.5,679.32 L295.5,679.32 L298.5,679.32 L301.5,679.32 L304.5,679.32 L307.5,679.31 L310.5,679.31 L313.5,679.31 L316.5,679.30 L319.5,679.30 L322.5,679.29 L325.5,679.28 L328.5,679.27 L331.5,679.26 L334.5,679.25 L337.5,679.24 L340.5,679.23 L343.5,679.22 L346.5,679.20 L349.5,679.19 L352.5,679.17 L355.5,679.15 L358.5,679.13 L361.5,679.11 L364.5,679.09 L367.5,679.07 L370.5,679.04 L373.5,679.02 L376.5,678.99 L379.5,678.97 L382.5,678.94 L385.5,678.91 L388.5,678.88 L391.5,678.84 L394.5,678.81 L397.5,678.77 L400.5,678.73 L403.5,678.70 L406.5,678.66 L409.5,678.61 L412.5,678.57 L415.5,678.53 L418.5,678.48 L421.5,678.43 L424.5,678.38 L427.5,678.33 L430.5,678.28 L433.5,678.22 L436.5,678.16 L439.5,678.10 L442.5,678.04 L445.5,677.98 L448.5,677.92 L451.5,677.85 L454.5,677.78 L457.5,677.71 L460.5,677.64 L463.5,677.57 L466.5,677.49 L469.5,677.41 L472.5,677.33 L475.5,677.25 L478.5,677.16 L481.5,677.08 L484.5,676.99 L487.5,676.90 L490.5,676.80 L493.5,676.71 L496.5,676.61 L499.5,676.51 L502.5,676.40 L505.5,676.30 L508.5,676.19 L511.5,676.08 L514.5,675.96 L517.5,675.85 L520.5,675.73 L523.5,675.61 L526.5,675.48 L529.5,675.36 L532.5,675.23 L535.5,675.09 L538.5,674.96 L541.5,674.82 L544.5,674.68 L547.5,674.54 L550.5,674.39 L553.5,674.24 L556.5,674.09 L559.5,673.93 L562.5,673.77 L565.5,673.61 L568.5,673.44 L571.5,673.27 L574.5,673.10 L577.5,672.93 L580.5,672.75 L583.5,672.57 L586.5,672.38 L589.5,672.19 L592.5,672.00 L595.5,671.80 L598.5,671.60 L601.5,671.40 L604.5,671.19 L607.5,670.98 L610.5,670.77 L613.5,670.55 L616.5,670.33 L619.5,670.10 L622.5,669.87 L625.5,669.64 L628.5,669.40 L631.5,669.16 L634.5,668.91 L637.5,668.66 L640.5,668.41 L643.5,668.15 L646.5,667.89 L649.5,667.62 L652.5,667.35 L655.5,667.07 L658.5,666.79 L661.5,666.51 L664.5,666.22 L667.5,665.93 L670.5,665.63 L673.5,665.32 L676.5,665.02 L679.5,664.71 L682.5,664.39 L685.5,664.07 L688.5,663.74 L691.5,663.41 L694.5,663.07 L697.5,662.73 L700.5,662.38 L703.5,662.03 L706.5,661.68 L709.5,661.31 L712.5,660.95 L715.5,660.57 L718.5,660.20 L721.5,659.81 L724.5,659.43 L727.5,659.03 L730.5,658.63 L733.5,658.23 L736.5,657.82 L739.5,657.40 L742.5,656.98 L745.5,656.55 L748.5,656.12 L751.5,655.68 L754.5,655.23 L757.5,654.78 L760.5,654.32 L763.5,653.86 L766.5,653.39 L769.5,652.91 L772.5,652.43 L775.5,651.94 L778.5,651.45 L781.5,650.95 L784.5,650.44 L787.5,649.92 L790.5,649.40 L793.5,648.88 L796.5,648.34 L799.5,647.80 L802.5,647.26 L805.5,646.70 L808.5,646.14 L811.5,645.57 L814.5,645.00 L817.5,644.42 L820.5,643.83 L823.5,643.23 L826.5,642.63 L829.5,642.02 L832.5,641.40 L835.5,640.77 L838.5,640.14 L841.5,639.50 L844.5,638.85 L847.5,638.20 L850.5,637.53 L853.5,636.86 L856.5,636.19 L859.5,635.50 L862.5,634.80 L865.5,634.10 L868.5,633.39 L871.5,632.67 L874.5,631.95 L876.1,631.56" fill="none" stroke="#000" stroke-width="3.5" stroke-linecap="round" stroke-linejoin="round"/>
<circle cx="692" cy="580.5" r="6.1" fill="#ff0000"/>
<circle cx="692" cy="592.5" r="6.1" fill="#ff0000"/>
<circle cx="692" cy="663.1" r="6.1" fill="#ff0000"/>
<g stroke="#000" stroke-width="2">
<line x1="50" y1="520.7" x2="960" y2="520.7" stroke-width="1.6"/>
<line x1="51.35" y1="520" x2="51.35" y2="688.3" stroke-width="1.7"/>
<line x1="959" y1="520" x2="959" y2="688.3"/>
<line x1="44.6" y1="687.70" x2="51" y2="687.70" stroke-width="1.8"/>
<line x1="44.6" y1="632.08" x2="51" y2="632.08" stroke-width="1.8"/>
<line x1="44.6" y1="576.46" x2="51" y2="576.46" stroke-width="1.8"/>
<line x1="959" y1="687.6" x2="966" y2="687.6" stroke-width="1.8"/>
<line x1="959" y1="665.3" x2="966" y2="665.3" stroke-width="1.8"/>
<line x1="959" y1="643.1" x2="966" y2="643.1" stroke-width="1.8"/>
<line x1="959" y1="631.9" x2="966" y2="631.9" stroke-width="1.8"/>
<line x1="959" y1="620.8" x2="966" y2="620.8" stroke-width="1.8"/>
<line x1="959" y1="598.5" x2="966" y2="598.5" stroke-width="1.8"/>
<line x1="959" y1="576.2" x2="966" y2="576.2" stroke-width="1.8"/>
</g>
<text x="39" y="692.6" text-anchor="end">0</text><text x="39" y="637.0" text-anchor="end">2</text><text x="39" y="581.4" text-anchor="end">4</text><text x="971" y="692.5">0</text><text x="971" y="670.2">2</text><text x="971" y="648.0">4</text><text x="971" y="636.8">5</text><text x="971" y="625.7">6</text><text x="971" y="603.4">8</text><text x="971" y="581.1">10</text><text x="25.2" y="534.7" text-anchor="middle">P</text><text x="24.7" y="555" text-anchor="middle">[kW]</text><text x="990.5" y="534.6" text-anchor="middle">NPSH</text><text x="990.5" y="555" text-anchor="middle">[m]</text><text x="865" y="554.7" style="fill:#1d5799">P1</text><text x="865" y="594.8" style="fill:#1d5799">P2</text>
<text x="54" y="715.9" style="letter-spacing:0.44px">P1 = 3.839 kW</text>
<text x="54" y="738.1" style="letter-spacing:0.44px">P2 = 3.415 kW</text>
<text x="54" y="758.7" style="letter-spacing:0.44px">NPSH = 2.21 m</text>
</svg></body></html>
